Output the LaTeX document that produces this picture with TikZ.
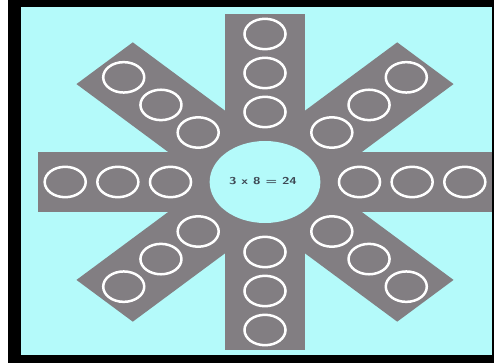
\documentclass[tikz,border=0pt]{standalone}
\definecolor{bgcyan}{RGB}{180,250,250}
\definecolor{armgray}{RGB}{130,126,130}
\definecolor{txtdark}{RGB}{60,70,82}
\tikzset{
  arm/.style={fill=armgray},
  ring/.style={draw=white, line width=2.5pt},
  hub/.style={fill=bgcyan},
  label/.style={font=\sffamily\bfseries\fontsize{10}{11}\selectfont, text=txtdark, inner sep=0pt}
}
\begin{document}
\begin{tikzpicture}[x=1pt,y=-1pt]
\useasboundingbox (0,0) rectangle (494,363);
\fill[white] (0,0) rectangle (494,363);
\fill[black] (8,0) rectangle (494,363);
\fill[bgcyan] (21,7) rectangle (492,355);
\begin{scope}
\clip (21,7) rectangle (492,355);
\begin{scope}[shift={(265,182)}, xscale=1.35]
  \foreach \a in {0,45,90,135} {
    \fill[arm, rotate=\a] (-168,-29.5) rectangle (168,29.5);
  }
  \foreach \a in {0,45,...,315} {
    \foreach \r in {70,109,148} {
      \draw[ring] (\a:\r) circle[radius=15.2];
    }
  }
  \fill[hub] (0,0) circle[radius=41];
\end{scope}
\end{scope}
\node[label, xscale=1.35, transform shape] (eq) at (263,181.5) {3 x 8 = 24};
\end{tikzpicture}
\end{document}
